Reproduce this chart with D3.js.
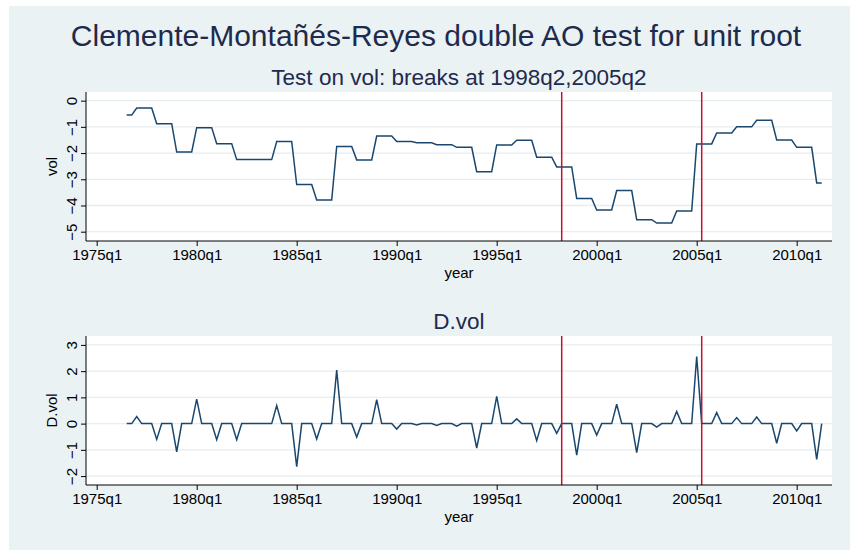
<!DOCTYPE html>
<html>
<head>
<meta charset="utf-8">
<script src="https://cdn.jsdelivr.net/npm/d3@7"></script>
<style>
  body { margin: 0; background: #fff; }
  svg text { font-family: "Liberation Sans", Arial, sans-serif; }
</style>
</head>
<body>
<svg id="chart"></svg>
<script>
// quarters counted from 1975q1; the series begin at 1976q3
const firstQuarter = 6;

// vol, one row per year (q1..q4), first row starts at 1976q3
const vol = [
  -0.55, -0.55,
  -0.28, -0.28, -0.28, -0.28,
  -0.88, -0.88, -0.88, -0.88,
  -1.96, -1.96, -1.96, -1.96,
  -1.03, -1.03, -1.03, -1.03,
  -1.64, -1.64, -1.64, -1.64,
  -2.25, -2.25, -2.25, -2.25,
  -2.25, -2.25, -2.25, -2.25,
  -1.56, -1.56, -1.56, -1.56,
  -3.20, -3.20, -3.20, -3.20,
  -3.79, -3.79, -3.79, -3.79,
  -1.75, -1.75, -1.75, -1.75,
  -2.26, -2.26, -2.26, -2.26,
  -1.35, -1.35, -1.35, -1.35,
  -1.56, -1.56, -1.56, -1.56,
  -1.61, -1.61, -1.61, -1.61,
  -1.68, -1.68, -1.68, -1.68,
  -1.78, -1.78, -1.78, -1.78,
  -2.71, -2.71, -2.71, -2.71,
  -1.69, -1.69, -1.69, -1.69,
  -1.51, -1.51, -1.51, -1.51,
  -2.16, -2.16, -2.16, -2.16,
  -2.53, -2.53, -2.53, -2.53,
  -3.73, -3.73, -3.73, -3.73,
  -4.17, -4.17, -4.17, -4.17,
  -3.43, -3.43, -3.43, -3.43,
  -4.54, -4.54, -4.54, -4.54,
  -4.67, -4.67, -4.67, -4.67,
  -4.21, -4.21, -4.21, -4.21,
  -1.65, -1.65, -1.65, -1.65,
  -1.23, -1.23, -1.23, -1.23,
  -1.00, -1.00, -1.00, -1.00,
  -0.75, -0.75, -0.75, -0.75,
  -1.50, -1.50, -1.50, -1.50,
  -1.78, -1.78, -1.78, -1.78,
  -3.14, -3.14
];

// D.vol, same quarters
const dvol = [
  0, 0,
  0.27, 0, 0, 0,
  -0.60, 0, 0, 0,
  -1.08, 0, 0, 0,
  0.93, 0, 0, 0,
  -0.61, 0, 0, 0,
  -0.61, 0, 0, 0,
  0, 0, 0, 0,
  0.69, 0, 0, 0,
  -1.64, 0, 0, 0,
  -0.59, 0, 0, 0,
  2.04, 0, 0, 0,
  -0.51, 0, 0, 0,
  0.91, 0, 0, 0,
  -0.21, 0, 0, 0,
  -0.05, 0, 0, 0,
  -0.07, 0, 0, 0,
  -0.10, 0, 0, 0,
  -0.93, 0, 0, 0,
  1.04, 0, 0, 0,
  0.18, 0, 0, 0,
  -0.65, 0, 0, 0,
  -0.37, 0, 0, 0,
  -1.20, 0, 0, 0,
  -0.44, 0, 0, 0,
  0.74, 0, 0, 0,
  -1.11, 0, 0, 0,
  -0.13, 0, 0, 0,
  0.46, 0, 0, 0,
  2.56, 0, 0, 0,
  0.42, 0, 0, 0,
  0.23, 0, 0, 0,
  0.25, 0, 0, 0,
  -0.75, 0, 0, 0,
  -0.28, 0, 0, 0,
  -1.36, 0
];

const xTickLabels = ['1975q1', '1980q1', '1985q1', '1990q1', '1995q1', '2000q1', '2005q1', '2010q1'];
const volTicks = [0, -1, -2, -3, -4, -5];
const dvolTicks = [3, 2, 1, 0, -1, -2];
const breaks = ['1998q2', '2005q2'];

const title = 'Clemente-Montañés-Reyes double AO test for unit root';
const volTitle = 'Test on vol: breaks at 1998q2,2005q2';
const dvolTitle = 'D.vol';

const W = 850, H = 550;
const navy = '#1a476f';
const titleColor = '#1e2a4e';

// "1998q2" -> quarters since 1975q1
const qIndex = s => (+s.slice(0, 4) - 1975) * 4 + (+s.slice(5) - 1);

const svg = d3.select('#chart')
  .attr('width', W)
  .attr('height', H);

svg.append('rect')
  .attr('x', 9).attr('y', 6)
  .attr('width', W - 9).attr('height', H - 6)
  .attr('fill', '#eaf2f3');

svg.append('text')
  .attr('x', 436).attr('y', 46)
  .attr('text-anchor', 'middle')
  .attr('font-size', 30)
  .attr('fill', titleColor)
  .text(title);

const x = d3.scaleLinear().domain([-2.14, 147.06]).range([86, 832]);

function panel(top, bottom, domain, ticks, values, yLabel, subTitle) {
  const y = d3.scaleLinear().domain(domain).range([bottom, top]);
  const g = svg.append('g');

  g.append('text')
    .attr('x', 459).attr('y', top - 7)
    .attr('text-anchor', 'middle')
    .attr('font-size', 22.5)
    .attr('fill', titleColor)
    .text(subTitle);

  g.append('rect')
    .attr('x', x.range()[0]).attr('y', top)
    .attr('width', x.range()[1] - x.range()[0])
    .attr('height', bottom - top)
    .attr('fill', '#fff');

  g.selectAll('.grid')
    .data(ticks)
    .enter()
    .append('line')
    .attr('class', 'grid')
    .attr('x1', x.range()[0]).attr('x2', x.range()[1])
    .attr('y1', d => y(d)).attr('y2', d => y(d))
    .attr('stroke', '#e6eef0')
    .attr('stroke-width', 1.3);

  const line = d3.line()
    .x((d, i) => x(firstQuarter + i))
    .y(d => y(d));

  g.append('path')
    .datum(values)
    .attr('d', line)
    .attr('fill', 'none')
    .attr('stroke', navy)
    .attr('stroke-width', 1.5);

  g.selectAll('.brk')
    .data(breaks)
    .enter()
    .append('line')
    .attr('class', 'brk')
    .attr('x1', d => x(qIndex(d))).attr('x2', d => x(qIndex(d)))
    .attr('y1', top).attr('y2', bottom)
    .attr('stroke', '#c8102e')
    .attr('stroke-width', 1.5);

  const yAxis = g.append('g')
    .attr('transform', `translate(${x.range()[0]},0)`)
    .call(d3.axisLeft(y).tickValues(ticks).tickSize(5).tickPadding(4).tickFormat(d3.format('d')));
  yAxis.selectAll('.tick text')
    .attr('transform', 'rotate(-90)')
    .attr('text-anchor', 'middle')
    .attr('x', 0)
    .attr('dy', 0)
    .attr('y', -9);
  yAxis.selectAll('.tick text').attr('font-size', 15).attr('fill', '#000')
    .attr('font-family', '"Liberation Sans", Arial, sans-serif');
  yAxis.select('.domain').attr('d', `M0,${top}V${bottom}`).attr('stroke', '#000');

  const xAxis = g.append('g')
    .attr('transform', `translate(0,${bottom})`)
    .call(d3.axisBottom(x)
      .tickValues(xTickLabels.map(qIndex))
      .tickSize(5)
      .tickPadding(3)
      .tickFormat((d, i) => xTickLabels[i]));
  xAxis.selectAll('.tick text').attr('font-size', 15).attr('fill', '#000')
    .attr('font-family', '"Liberation Sans", Arial, sans-serif');
  xAxis.select('.domain').attr('d', `M${x.range()[0]},0H${x.range()[1]}`).attr('stroke', '#000');

  g.append('text')
    .attr('x', 459).attr('y', bottom + 37)
    .attr('text-anchor', 'middle')
    .attr('font-size', 15)
    .attr('fill', '#000')
    .text('year');

  g.append('text')
    .attr('transform', `translate(57,${(top + bottom) / 2}) rotate(-90)`)
    .attr('text-anchor', 'middle')
    .attr('font-size', 15)
    .attr('fill', '#000')
    .text(yLabel);
}

panel(92, 241, [-5.355, 0.33], volTicks, vol, 'vol', volTitle);
panel(336, 485, [-2.34, 3.34], dvolTicks, dvol, 'D.vol', dvolTitle);
</script>
</body>
</html>
